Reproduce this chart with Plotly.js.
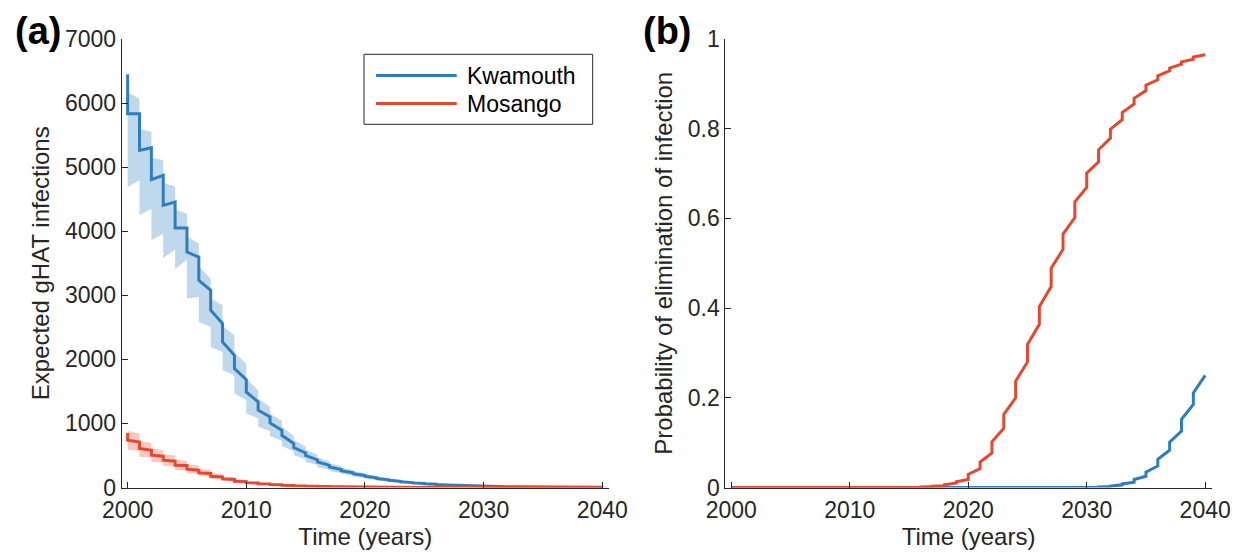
<!DOCTYPE html>
<html>
<head>
<meta charset="utf-8">
<script src="https://cdn.plot.ly/plotly-3.0.1.min.js"></script>
<style>html,body{margin:0;padding:0;background:#fff;}#chart{width:1241px;height:558px;}</style>
</head>
<body>
<div id="chart"></div>
<script>
// ---------- DATA ----------
const years = [2000,2001,2002,2003,2004,2005,2006,2007,2008,2009,2010,2011,2012,2013,2014,2015,2016,2017,2018,2019,2020,2021,2022,2023,2024,2025,2026,2027,2028,2029,2030,2031,2032,2033,2034,2035,2036,2037,2038,2039,2040];
const seriesNames = ["Kwamouth", "Mosango"];
const xTicks = [2000, 2010, 2020, 2030, 2040];
const yTicksA = [0,1000,2000,3000,4000,5000,6000,7000];
const yTicksB = [0,0.2,0.4,0.6,0.8,1];
const yTickTextB = ["0","0.2","0.4","0.6","0.8","1"];

// Panel (a): expected infections, value just before / just after each yearly step
const kwPre  = [6450,5834,5304,4872,4455,4050,3597,3078,2558,2064,1685,1336,1101,893,686,540,430,345,280,230,188,150,120,96,77,62,50,40,33,27,22,18,14.5,11.8,9.6,7.8,6.3,5.1,4.2,3.4,2.8];
const kwPost = [5834,5262,4805,4404,4050,3675,3234,2766,2271,1856,1491,1206,1007,814,624,500,400,320,262,215,176,140,112,90,72,58,47,38,31,25,20.5,16.8,13.6,11.1,9,7.3,5.9,4.8,3.9,3.2,2.8];
const kwUpPre  = [6620,6068,5547,5106,4700,4274,3806,3260,2844,2376,1934,1518,1257,1040,810,640,510,410,335,275,225,180,145,117,94,76,61,49,40,33,27,22,18,14.5,11.8,9.6,7.8,6.3,5.2,4.2,3.5];
const kwUpPost = [6170,5600,5148,4752,4337,3920,3450,2950,2520,2100,1700,1390,1150,950,740,590,470,380,310,255,210,168,135,109,88,71,57,46,37.5,30.5,25,20.5,16.8,13.6,11,9,7.3,5.9,4.8,3.9,3.5];
const kwLoPre  = [6300,4794,4352,3962,3711,3554,2973,2505,2115,1752,1362,1080,880,730,560,440,350,280,228,186,152,121,97,77,62,50,40,32,26,21,17,14,11.2,9.1,7.4,6,4.9,3.9,3.2,2.6,2.1];
const kwLoPost = [4690,4248,3858,3580,3409,2948,2583,2193,1830,1466,1154,950,800,650,505,400,318,256,209,171,140,112,89,71,57,46,37,30,24,19.5,16,13,10.4,8.4,6.8,5.5,4.5,3.6,2.9,2.4,2.1];

const msPre  = [852,711,582,488,410,343,270,218,165,125,92,70,54,42,33,25,19,15,11,8.5,6.5,5,4,3,2.4,1.8,1.4,1.1,0.85,0.65,0.5,0.4,0.3,0.24,0.18,0.14,0.11,0.08,0.06,0.05,0.04];
const msPost = [738,608,504,426,348,285,228,176,134,98,76,58,45,35,27,21,16,12,9,7,5.5,4.3,3.3,2.6,2,1.5,1.2,0.9,0.7,0.55,0.42,0.33,0.26,0.2,0.15,0.12,0.09,0.07,0.05,0.04,0.04];
const msUpPre  = [998,842,696,582,504,415,345,275,210,160,120,92,71,55,43,33,25,19.5,15,11.5,8.8,6.8,5.3,4.1,3.2,2.5,1.9,1.5,1.15,0.9,0.7,0.55,0.42,0.33,0.25,0.19,0.15,0.11,0.09,0.07,0.05];
const msUpPost = [883,722,608,515,437,359,290,225,172,128,98,75,58,45,35,27,21,16,12.2,9.3,7.2,5.6,4.3,3.4,2.6,2,1.6,1.2,0.95,0.73,0.57,0.45,0.35,0.27,0.2,0.16,0.12,0.09,0.07,0.06,0.05];
const msLoPre  = [720,575,470,390,330,270,210,170,128,97,71,54,41,32,25,19,14.5,11.5,8.5,6.5,5,3.8,3,2.3,1.8,1.4,1.05,0.82,0.64,0.49,0.38,0.3,0.22,0.18,0.13,0.1,0.08,0.06,0.045,0.035,0.03];
const msLoPost = [590,480,400,340,275,225,178,137,104,76,58,44,34,26.5,20.5,16,12,9,6.8,5.3,4.1,3.2,2.5,1.9,1.5,1.1,0.88,0.67,0.52,0.4,0.31,0.24,0.19,0.14,0.11,0.08,0.065,0.05,0.035,0.03,0.03];

// Panel (b): probability of elimination, before / after each yearly step
const pbKwPre  = [0,0,0,0,0,0,0,0,0,0,0,0,0,0,0,0,0,0,0,0,0,0,0,0,0,0,0,0,0,0,0,0,0.002,0.006,0.012,0.025,0.048,0.083,0.126,0.185,0.25];
const pbKwPost = [0,0,0,0,0,0,0,0,0,0,0,0,0,0,0,0,0,0,0,0,0,0,0,0,0,0,0,0,0,0,0,0.001,0.003,0.008,0.018,0.034,0.063,0.101,0.152,0.211,0.25];
const pbMsPre  = [0,0,0,0,0,0,0,0,0,0,0,0,0,0,0,0,0,0.002,0.004,0.010,0.018,0.042,0.077,0.132,0.200,0.280,0.364,0.448,0.531,0.602,0.669,0.726,0.779,0.820,0.855,0.885,0.909,0.929,0.944,0.955,0.965];
const pbMsPost = [0,0,0,0,0,0,0,0,0,0,0,0,0,0,0,0,0.001,0.003,0.006,0.013,0.029,0.057,0.102,0.163,0.237,0.319,0.403,0.489,0.565,0.637,0.701,0.753,0.799,0.836,0.868,0.897,0.918,0.935,0.949,0.960,0.965];

// ---------- STYLE ----------
const W = 1241, H = 558;
const BLUE = "#2E7DBE", RED = "#E6472F";
const BLUE_FILL = "rgba(46,125,190,0.30)", RED_FILL = "rgba(230,71,47,0.30)";
const AX = "#262626";
const FONT = "Liberation Sans, Arial, Helvetica, sans-serif";
const px = v => v / W, py = v => 1 - v / H;

function steps(pre, post) {
  const x = [], y = [];
  for (let i = 0; i < years.length; i++) {
    x.push(years[i], years[i]);
    y.push(pre[i], post[i]);
  }
  return {x, y};
}

function band(lo, hi, xa, ya, fill) {
  return [
    {x: lo.x, y: lo.y, xaxis: xa, yaxis: ya, mode: "lines", line: {width: 0, color: fill}, hoverinfo: "skip", showlegend: false},
    {x: hi.x, y: hi.y, xaxis: xa, yaxis: ya, mode: "lines", line: {width: 0, color: fill}, fill: "tonexty", fillcolor: fill, hoverinfo: "skip", showlegend: false}
  ];
}

const kw = steps(kwPre, kwPost), ms = steps(msPre, msPost);
const traces = [
  ...band(steps(kwLoPre, kwLoPost), steps(kwUpPre, kwUpPost), "x", "y", BLUE_FILL),
  ...band(steps(msLoPre, msLoPost), steps(msUpPre, msUpPost), "x", "y", RED_FILL),
  {x: kw.x, y: kw.y, xaxis: "x", yaxis: "y", mode: "lines", name: seriesNames[0], line: {color: BLUE, width: 3}, showlegend: false},
  {x: ms.x, y: ms.y, xaxis: "x", yaxis: "y", mode: "lines", name: seriesNames[1], line: {color: RED, width: 3}, showlegend: false}
];
const bk = steps(pbKwPre, pbKwPost), bm = steps(pbMsPre, pbMsPost);
traces.push(
  {x: bk.x, y: bk.y, xaxis: "x2", yaxis: "y2", mode: "lines", name: seriesNames[0], line: {color: BLUE, width: 3}, showlegend: false},
  {x: bm.x, y: bm.y, xaxis: "x2", yaxis: "y2", mode: "lines", name: seriesNames[1], line: {color: RED, width: 3}, showlegend: false}
);

const tickFont = {family: FONT, size: 23, color: AX};
const titleFont = {family: FONT, size: 24, color: AX};
const yDom = [py(487.5), py(39)];
function xAxis(dom, anchor) {
  return {domain: dom, anchor: anchor, range: [1999.5, 2040.55], tickmode: "array", tickvals: xTicks,
    ticks: "inside", ticklen: 6, tickwidth: 1, tickcolor: AX, showline: true, linecolor: AX, linewidth: 1,
    showgrid: false, zeroline: false, tickfont: tickFont, ticklabelstandoff: 2,
    title: {text: "Time (years)", font: titleFont, standoff: 6}};
}
function yAxis(anchor, range, vals, text, title) {
  const a = {domain: yDom, anchor: anchor, range: range, tickmode: "array", tickvals: vals,
    ticks: "inside", ticklen: 6, tickwidth: 1, tickcolor: AX, showline: true, linecolor: AX, linewidth: 1,
    showgrid: false, zeroline: false, tickfont: tickFont,
    title: {text: title, font: titleFont, standoff: 8}};
  if (text) a.ticktext = text;
  return a;
}

// custom legend (box, line samples, labels) in paper coordinates
const shapes = [
  {type: "rect", xref: "paper", yref: "paper", x0: px(364), x1: px(592.7), y0: py(124.3), y1: py(54.3),
   line: {color: AX, width: 1}, fillcolor: "white", layer: "above"},
  {type: "line", xref: "paper", yref: "paper", x0: px(376), x1: px(456.7), y0: py(75.5), y1: py(75.5), line: {color: BLUE, width: 3}, layer: "above"},
  {type: "line", xref: "paper", yref: "paper", x0: px(376), x1: px(456.7), y0: py(103.5), y1: py(103.5), line: {color: RED, width: 3}, layer: "above"}
];
const annotations = [
  {xref: "paper", yref: "paper", x: px(465), y: py(75.5), xanchor: "left", yanchor: "middle", text: seriesNames[0], showarrow: false, font: {family: FONT, size: 23, color: "#000"}},
  {xref: "paper", yref: "paper", x: px(465), y: py(103.5), xanchor: "left", yanchor: "middle", text: seriesNames[1], showarrow: false, font: {family: FONT, size: 23, color: "#000"}},
  {xref: "paper", yref: "paper", x: px(38), y: py(31), xanchor: "center", yanchor: "middle", text: "<b>(a)</b>", showarrow: false, font: {family: FONT, size: 38, color: "#000"}},
  {xref: "paper", yref: "paper", x: px(667), y: py(31), xanchor: "center", yanchor: "middle", text: "<b>(b)</b>", showarrow: false, font: {family: FONT, size: 38, color: "#000"}}
];

const layout = {
  width: W, height: H, margin: {l: 0, r: 0, t: 0, b: 0},
  paper_bgcolor: "white", plot_bgcolor: "white", showlegend: false,
  xaxis: xAxis([px(121.7), px(608.8)], "y"),
  yaxis: yAxis("x", [0, 7000], yTicksA, null, "Expected gHAT infections"),
  xaxis2: xAxis([px(725.4), px(1211.7)], "y2"),
  yaxis2: yAxis("x2", [0, 1], yTicksB, yTickTextB, "Probability of elimination of infection"),
  shapes: shapes, annotations: annotations
};

Plotly.newPlot("chart", traces, layout, {staticPlot: true, displayModeBar: false});
</script>
</body>
</html>
